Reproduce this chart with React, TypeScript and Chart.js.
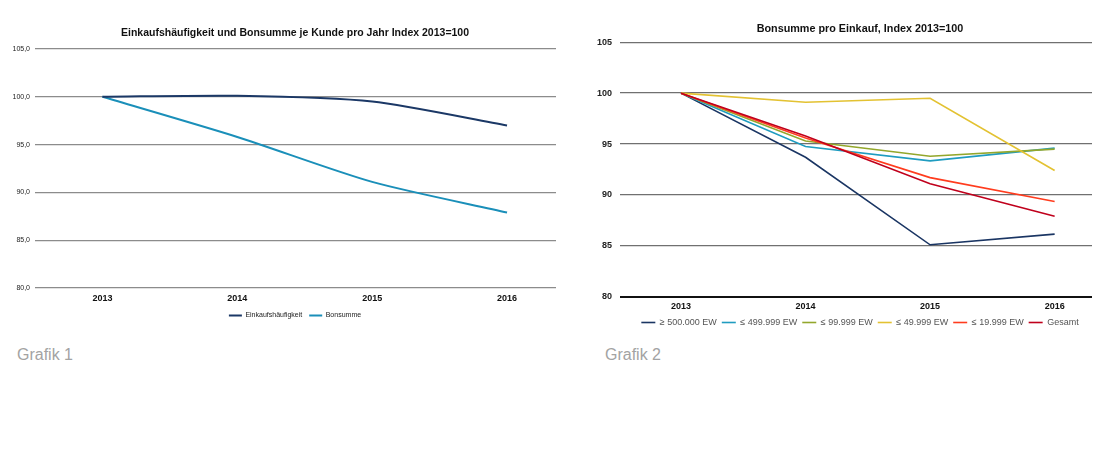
import React, { useEffect, useRef } from 'react';
import { Chart, registerables } from 'chart.js';

Chart.register(...registerables);

// ---------- data ----------
const years = ['2013', '2014', '2015', '2016'];

// Grafik 1
const title1 = 'Einkaufshäufigkeit und Bonsumme je Kunde pro Jahr Index 2013=100';
const einkaufshaeufigkeit = [100, 100.1, 99.5, 97.0];
const bonsumme = [100, 95.8, 91.1, 87.9];

// Grafik 2
const title2 = 'Bonsumme pro Einkauf, Index 2013=100';
const seriesNames2 = ['≥ 500.000 EW', '≤ 499.999 EW', '≤ 99.999 EW', '≤ 49.999 EW', '≤ 19.999 EW', 'Gesamt'];
const ew500000 = [100, 93.7, 85.1, 86.15];
const ew499999 = [100, 94.75, 93.35, 94.6];
const ew99999 = [100, 95.3, 93.8, 94.5];
const ew49999 = [100, 99.1, 99.5, 92.4];
const ew19999 = [100, 95.6, 91.7, 89.35];
const gesamt = [100, 95.8, 91.1, 87.9];
const series2 = [ew500000, ew499999, ew99999, ew49999, ew19999, gesamt];
const colors2 = ['#1a3563', '#1f9cc0', '#93a72c', '#e3c232', '#ff3c1e', '#c0001c'];

const yMin = 80;
const yMax = 105;
const yStep = 5;

const SANS = "'Liberation Sans', Arial, sans-serif";

const toPoints = (arr: number[]) => arr.map((v, i) => ({ x: i, y: v }));

function yearTicks(scale: any) {
  scale.ticks = years.map((_, i) => ({ value: i }));
}

function makeConfig1(): any {
  return {
    type: 'line',
    data: {
      datasets: [
        {
          label: 'Einkaufshäufigkeit',
          data: toPoints(einkaufshaeufigkeit),
          borderColor: '#1b3866',
          backgroundColor: '#1b3866',
          borderWidth: 2,
          pointRadius: 0,
          tension: 0.25,
        },
        {
          label: 'Bonsumme',
          data: toPoints(bonsumme),
          borderColor: '#1a8fb9',
          backgroundColor: '#1a8fb9',
          borderWidth: 2,
          pointRadius: 0,
          tension: 0.25,
        },
      ],
    },
    options: {
      responsive: false,
      animation: false,
      layout: { padding: 0 },
      plugins: {
        title: {
          display: true,
          text: title1,
          color: '#111',
          font: { family: SANS, size: 10.5, weight: 'bold' },
          padding: { top: 27, bottom: 9.4 },
        },
        legend: {
          position: 'bottom',
          labels: {
            usePointStyle: true,
            pointStyle: 'line',
            pointStyleWidth: 13,
            padding: 7,
            color: '#222',
            font: { family: SANS, size: 7 },
          },
        },
        tooltip: { enabled: false },
      },
      scales: {
        x: {
          type: 'linear',
          min: -0.5,
          max: 3.363,
          afterBuildTicks: yearTicks,
          afterFit: (s: any) => { s.height = 17; },
          ticks: {
            callback: (v: number) => years[v],
            color: '#111',
            font: { family: SANS, size: 9, weight: 'bold' },
            padding: 5.6,
            maxRotation: 0,
            autoSkip: false,
          },
          grid: { display: false, drawTicks: false, tickLength: 0 },
          border: { display: false },
        },
        y: {
          min: yMin,
          max: yMax,
          afterFit: (s: any) => { s.width = 35; },
          ticks: {
            stepSize: yStep,
            callback: (v: number) => v.toFixed(1).replace('.', ','),
            color: '#222',
            font: { family: SANS, size: 7 },
            padding: 5,
          },
          grid: { color: '#8c8c8c', lineWidth: 1.3, drawTicks: false },
          border: { display: false },
        },
        yR: {
          position: 'right',
          display: true,
          afterFit: (s: any) => { s.width = 34; },
          ticks: { display: false },
          grid: { display: false },
          border: { display: false },
        },
      },
    },
  };
}

function makeConfig2(): any {
  return {
    type: 'line',
    data: {
      datasets: series2.map((arr, i) => ({
        label: seriesNames2[i],
        data: toPoints(arr),
        borderColor: colors2[i],
        backgroundColor: colors2[i],
        borderWidth: 1.6,
        pointRadius: 0,
        tension: 0,
        order: series2.length - i,
      })),
    },
    options: {
      responsive: false,
      animation: false,
      layout: { padding: 0 },
      plugins: {
        title: {
          display: true,
          text: title2,
          color: '#111',
          font: { family: SANS, size: 10.8, weight: 'bold' },
          padding: { top: 22.5, bottom: 6.8 },
        },
        legend: {
          position: 'bottom',
          labels: {
            usePointStyle: true,
            pointStyle: 'line',
            pointStyleWidth: 14,
            padding: 5,
            color: '#555',
            font: { family: SANS, size: 9 },
            sort: (a: any, b: any) => a.datasetIndex - b.datasetIndex,
          },
        },
        tooltip: { enabled: false },
      },
      scales: {
        x: {
          type: 'linear',
          min: -0.49,
          max: 3.3,
          afterBuildTicks: yearTicks,
          afterFit: (s: any) => { s.height = 16.3; },
          ticks: {
            callback: (v: number) => years[v],
            color: '#111',
            font: { family: SANS, size: 9, weight: 'bold' },
            padding: 4.9,
            maxRotation: 0,
            autoSkip: false,
          },
          grid: { display: false, drawTicks: false, tickLength: 0 },
          border: { display: false },
        },
        y: {
          min: yMin,
          max: yMax,
          afterFit: (s: any) => { s.width = 30; },
          ticks: {
            stepSize: yStep,
            color: '#222',
            font: { family: SANS, size: 9, weight: 'bold' },
            padding: 8,
          },
          grid: {
            color: (c: any) => (c.tick && c.tick.value === yMin ? '#111' : '#707070'),
            lineWidth: (c: any) => (c.tick && c.tick.value === yMin ? 2 : 1.3),
            drawTicks: false,
          },
          border: { display: false },
        },
        yR: {
          position: 'right',
          display: true,
          afterFit: (s: any) => { s.width = 38; },
          ticks: { display: false },
          grid: { display: false },
          border: { display: false },
        },
      },
    },
  };
}

function ChartCanvas(props: { make: () => any; left: number; top: number; width: number; height: number }) {
  const ref = useRef<HTMLCanvasElement | null>(null);
  useEffect(() => {
    if (!ref.current) return;
    const chart = new Chart(ref.current, props.make());
    return () => chart.destroy();
  }, []);
  return (
    <canvas
      ref={ref}
      width={props.width}
      height={props.height}
      style={{ position: 'absolute', left: props.left, top: props.top, width: props.width, height: props.height }}
    />
  );
}

const captionStyle: React.CSSProperties = {
  position: 'absolute',
  top: 345,
  fontFamily: SANS,
  fontSize: 16,
  lineHeight: '20px',
  color: '#a3a3a3',
  whiteSpace: 'nowrap',
};

export default function App() {
  return (
    <div
      style={{
        position: 'absolute',
        left: 0,
        top: 0,
        width: 1120,
        height: 475,
        overflow: 'hidden',
        background: '#ffffff',
      }}
    >
      <ChartCanvas make={makeConfig1} left={0} top={0} width={590} height={329} />
      <ChartCanvas make={makeConfig2} left={590} top={0} width={540} height={337} />
      <div style={{ ...captionStyle, left: 17 }}>Grafik 1</div>
      <div style={{ ...captionStyle, left: 605 }}>Grafik 2</div>
    </div>
  );
}
